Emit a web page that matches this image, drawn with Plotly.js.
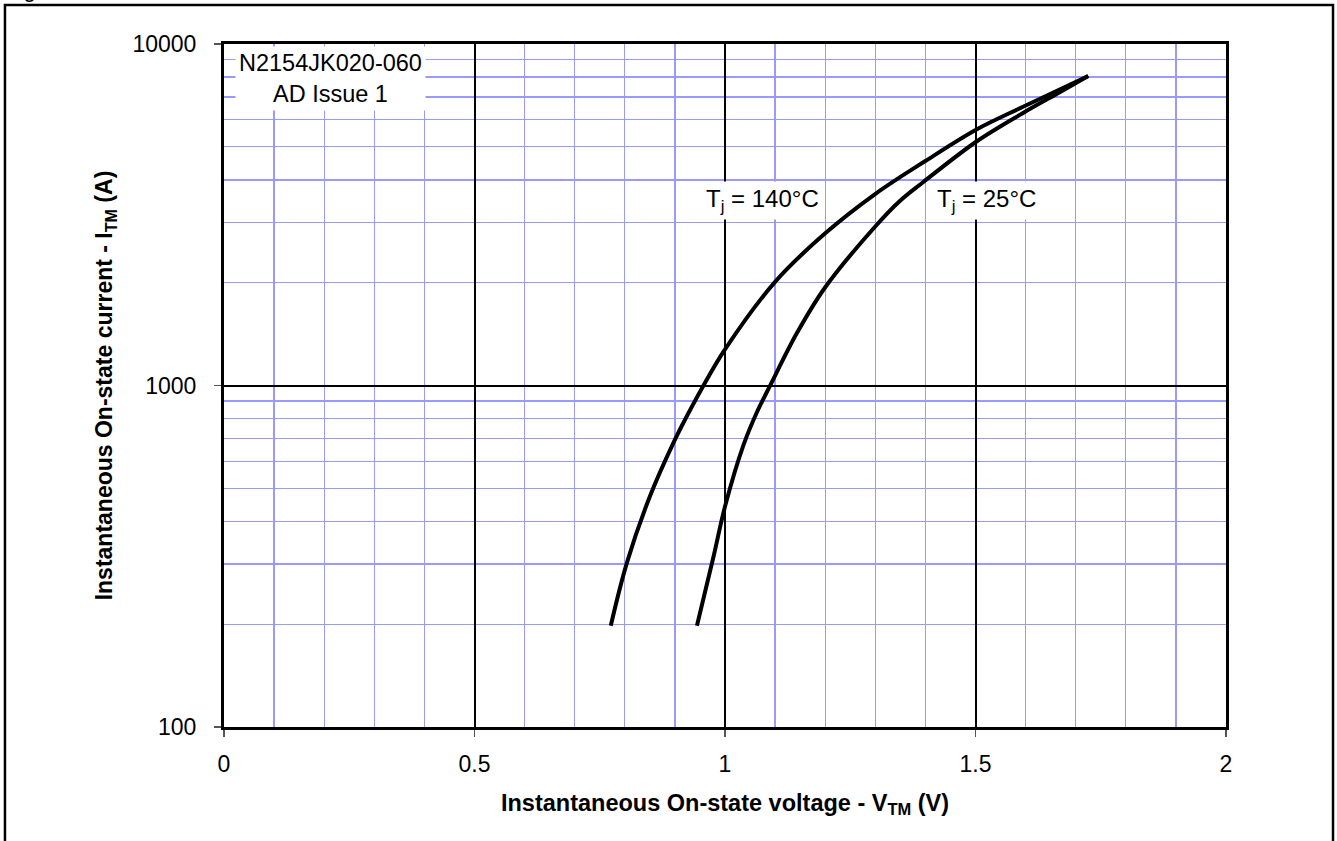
<!DOCTYPE html>
<html>
<head>
<meta charset="utf-8">
<script src="https://cdn.plot.ly/plotly-3.0.1.min.js"></script>
<style>html,body{margin:0;padding:0;background:#fff;}#chart{width:1337px;height:841px;}</style>
</head>
<body>
<div id="chart"></div>
<script>
// On-state voltage (V) and current (A)
const v140 = [0.772, 0.804, 0.850, 0.897, 0.924, 0.956, 1.0, 1.100, 1.200, 1.299, 1.399, 1.502, 1.595, 1.725];
const i140 = [198, 302, 473, 679, 814, 994, 1276, 2012, 2790, 3630, 4534, 5620, 6550, 8060];
const v25 = [0.944, 0.977, 1.0, 1.037, 1.063, 1.090, 1.143, 1.199, 1.299, 1.349, 1.396, 1.502, 1.595, 1.669, 1.725];
const i25 = [198, 315, 442, 670, 831, 999, 1419, 1930, 2912, 3470, 3944, 5182, 6281, 7235, 8060];

const xTicks = [0, 0.5, 1, 1.5, 2];
const xTickText = ['0', '0.5', '1', '1.5', '2'];
const yTicks = [100, 1000, 10000];
const yTickText = ['100', '1000', '10000'];
const yMinor = [200, 300, 400, 500, 600, 700, 800, 900, 2000, 3000, 4000, 5000, 6000, 7000, 8000, 9000];

const label140 = 'T<sub>j</sub> = 140°C';
const label25 = 'T<sub>j</sub> = 25°C';
const label140Pos = [0.955, 3490];
const label25Pos = [1.415, 3490];
const infoText = 'N2154JK020-060<br>AD Issue 1';
const xTitle = '<b>Instantaneous On-state voltage - V<sub>TM</sub> (V)</b>';
const yTitle = '<b>Instantaneous On-state current - I<sub>TM</sub> (A)</b>';

const FONT = 'Liberation Sans, Arial, sans-serif';
const GRID = '#9999ff';

const traces = [
  {x: v140, y: i140, type: 'scatter', mode: 'lines', name: 'Tj = 140°C',
   line: {color: '#000', width: 4, shape: 'spline', smoothing: 1}},
  {x: v25, y: i25, type: 'scatter', mode: 'lines', name: 'Tj = 25°C',
   line: {color: '#000', width: 4, shape: 'spline', smoothing: 1}}
];

const layout = {
  width: 1337, height: 841,
  margin: {l: 224, r: 111, t: 44, b: 114},
  paper_bgcolor: '#fff', plot_bgcolor: '#fff',
  showlegend: false,
  font: {family: FONT, size: 23, color: '#000'},
  xaxis: {
    range: [0, 2], tickvals: xTicks, ticktext: xTickText,
    showgrid: true, gridcolor: '#000', gridwidth: 2,
    minor: {dtick: 0.1, showgrid: true, gridcolor: GRID, gridwidth: 1.3, ticks: ''},
    ticks: 'outside', ticklen: 7, tickwidth: 1.5, tickcolor: '#555',
    showline: true, mirror: true, linecolor: '#000', linewidth: 3,
    zeroline: false, ticklabelstandoff: 7,
    tickfont: {family: FONT, size: 23},
    title: {text: xTitle, font: {family: FONT, size: 23.5}, standoff: 19}
  },
  yaxis: {
    type: 'log', range: [2, 4], tickvals: yTicks, ticktext: yTickText,
    showgrid: true, gridcolor: '#000', gridwidth: 2,
    minor: {tickvals: yMinor, showgrid: true, gridcolor: GRID, gridwidth: 1.3, ticks: ''},
    ticks: 'outside', ticklen: 7, tickwidth: 1.5, tickcolor: '#555',
    showline: true, mirror: true, linecolor: '#000', linewidth: 3,
    zeroline: false, ticklabelstandoff: 13,
    tickfont: {family: FONT, size: 23},
    title: {text: yTitle, font: {family: FONT, size: 23}, standoff: 14}
  },
  annotations: [
    {xref: 'paper', yref: 'paper', x: 0.1058, y: 0.997, xanchor: 'center', yanchor: 'top',
     text: infoText, showarrow: false, bgcolor: '#fff', borderpad: 3,
     font: {family: FONT, size: 23.5}},
    {x: label140Pos[0], y: Math.log10(label140Pos[1]), xanchor: 'left', yanchor: 'middle',
     text: label140, showarrow: false, bgcolor: '#fff', borderpad: 3, font: {family: FONT, size: 24}},
    {x: label25Pos[0], y: Math.log10(label25Pos[1]), xanchor: 'left', yanchor: 'middle',
     text: label25, showarrow: false, bgcolor: '#fff', borderpad: 3, font: {family: FONT, size: 24}},
    {xref: 'paper', yref: 'paper', x: -0.222, y: 1.0586, xanchor: 'left', yanchor: 'bottom',
     text: 'Figure 1', showarrow: false, font: {family: FONT, size: 23}}
  ],
  shapes: [
    {type: 'rect', xref: 'paper', yref: 'paper', x0: -0.2186, x1: 1.1068, y0: -0.2, y1: 1.0571,
     line: {color: '#000', width: 2.5}, fillcolor: 'rgba(0,0,0,0)', layer: 'below'}
  ]
};

Plotly.newPlot('chart', traces, layout, {displayModeBar: false, staticPlot: true});
</script>
</body>
</html>
